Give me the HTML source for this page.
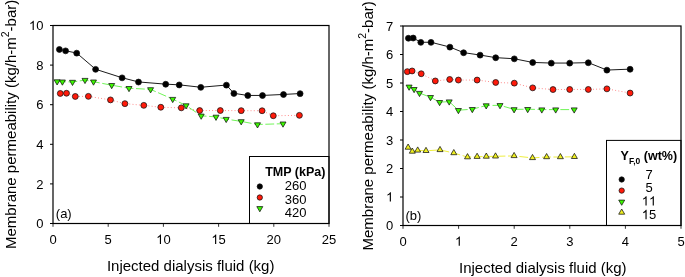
<!DOCTYPE html>
<html><head><meta charset="utf-8"><style>
html,body{margin:0;padding:0;background:#fff;}
svg{display:block;font-family:"Liberation Sans", sans-serif;will-change:transform;}
</style></head><body>
<svg width="685" height="277" viewBox="0 0 685 277" font-family='"Liberation Sans", sans-serif' fill="#000">
<line x1="50.0" y1="223.50" x2="53.0" y2="223.50" stroke="#000" stroke-width="1"/>
<text x="36.17" y="228.10" font-size="13">0</text>
<line x1="50.0" y1="183.90" x2="53.0" y2="183.90" stroke="#000" stroke-width="1"/>
<text x="36.17" y="188.50" font-size="13">2</text>
<line x1="50.0" y1="144.30" x2="53.0" y2="144.30" stroke="#000" stroke-width="1"/>
<text x="36.17" y="148.90" font-size="13">4</text>
<line x1="50.0" y1="104.70" x2="53.0" y2="104.70" stroke="#000" stroke-width="1"/>
<text x="36.17" y="109.30" font-size="13">6</text>
<line x1="50.0" y1="65.10" x2="53.0" y2="65.10" stroke="#000" stroke-width="1"/>
<text x="36.17" y="69.70" font-size="13">8</text>
<line x1="50.0" y1="25.50" x2="53.0" y2="25.50" stroke="#000" stroke-width="1"/>
<path d="M763 0L583 0L583 1147Q518 1085 412.5 1023Q307 961 223 930L223 1104Q374 1175 487 1276Q600 1377 647 1472L763 1472Z" transform="translate(28.94,30.10) scale(0.00635,-0.00635)"/>
<text x="36.17" y="30.10" font-size="13">0</text>
<line x1="53.00" y1="223.5" x2="53.00" y2="226.8" stroke="#000" stroke-width="0.8"/>
<text x="49.39" y="243.90" font-size="13">0</text>
<line x1="108.20" y1="223.5" x2="108.20" y2="226.8" stroke="#000" stroke-width="0.8"/>
<text x="104.59" y="243.90" font-size="13">5</text>
<line x1="163.40" y1="223.5" x2="163.40" y2="226.8" stroke="#000" stroke-width="0.8"/>
<path d="M763 0L583 0L583 1147Q518 1085 412.5 1023Q307 961 223 930L223 1104Q374 1175 487 1276Q600 1377 647 1472L763 1472Z" transform="translate(156.17,243.90) scale(0.00635,-0.00635)"/>
<text x="163.40" y="243.90" font-size="13">0</text>
<line x1="218.60" y1="223.5" x2="218.60" y2="226.8" stroke="#000" stroke-width="0.8"/>
<path d="M763 0L583 0L583 1147Q518 1085 412.5 1023Q307 961 223 930L223 1104Q374 1175 487 1276Q600 1377 647 1472L763 1472Z" transform="translate(211.37,243.90) scale(0.00635,-0.00635)"/>
<text x="218.60" y="243.90" font-size="13">5</text>
<line x1="273.80" y1="223.5" x2="273.80" y2="226.8" stroke="#000" stroke-width="0.8"/>
<text x="266.57" y="243.90" font-size="13">20</text>
<line x1="329.00" y1="223.5" x2="329.00" y2="226.8" stroke="#000" stroke-width="0.8"/>
<text x="321.77" y="243.90" font-size="13">25</text>
<polyline points="60.30,93.45 66.50,93.25 75.30,96.45 88.40,96.35 110.50,99.90 124.90,103.65 143.80,105.35 160.80,107.25 181.30,107.85 199.70,110.55 220.30,110.55 241.20,110.65 262.10,110.75 273.30,115.75 299.40,115.35" fill="none" stroke="#ff0000" stroke-width="0.9" stroke-dasharray="0.9 2.3" stroke-opacity="0.55"/>
<polyline points="57.10,81.50 62.40,81.70 72.50,82.00 85.00,80.10 93.50,81.70 111.70,85.20 129.00,88.20 150.60,89.40 172.70,99.10 186.10,105.50 201.20,115.80 216.00,116.90 226.20,119.10 241.20,121.40 257.50,124.50 283.00,123.70" fill="none" stroke="#40f020" stroke-width="1" stroke-dasharray="8.8 2.6" stroke-opacity="0.75"/>
<polyline points="59.40,49.35 65.60,50.75 76.70,53.05 95.60,69.25 122.10,77.75 138.50,81.95 165.70,84.15 179.20,84.85 200.80,87.25 226.40,85.05 233.90,93.35 247.80,95.45 262.50,95.45 283.50,94.45 300.10,93.55" fill="none" stroke="#000" stroke-width="0.9" stroke-opacity="1"/>
<circle cx="60.30" cy="93.45" r="2.95" fill="#ff1a0a" stroke="#111" stroke-width="0.75"/>
<circle cx="66.50" cy="93.25" r="2.95" fill="#ff1a0a" stroke="#111" stroke-width="0.75"/>
<circle cx="75.30" cy="96.45" r="2.95" fill="#ff1a0a" stroke="#111" stroke-width="0.75"/>
<circle cx="88.40" cy="96.35" r="2.95" fill="#ff1a0a" stroke="#111" stroke-width="0.75"/>
<circle cx="110.50" cy="99.90" r="2.95" fill="#ff1a0a" stroke="#111" stroke-width="0.75"/>
<circle cx="124.90" cy="103.65" r="2.95" fill="#ff1a0a" stroke="#111" stroke-width="0.75"/>
<circle cx="143.80" cy="105.35" r="2.95" fill="#ff1a0a" stroke="#111" stroke-width="0.75"/>
<circle cx="160.80" cy="107.25" r="2.95" fill="#ff1a0a" stroke="#111" stroke-width="0.75"/>
<circle cx="181.30" cy="107.85" r="2.95" fill="#ff1a0a" stroke="#111" stroke-width="0.75"/>
<circle cx="199.70" cy="110.55" r="2.95" fill="#ff1a0a" stroke="#111" stroke-width="0.75"/>
<circle cx="220.30" cy="110.55" r="2.95" fill="#ff1a0a" stroke="#111" stroke-width="0.75"/>
<circle cx="241.20" cy="110.65" r="2.95" fill="#ff1a0a" stroke="#111" stroke-width="0.75"/>
<circle cx="262.10" cy="110.75" r="2.95" fill="#ff1a0a" stroke="#111" stroke-width="0.75"/>
<circle cx="273.30" cy="115.75" r="2.95" fill="#ff1a0a" stroke="#111" stroke-width="0.75"/>
<circle cx="299.40" cy="115.35" r="2.95" fill="#ff1a0a" stroke="#111" stroke-width="0.75"/>
<polygon points="54.10,79.80 60.10,79.80 57.10,85.00" fill="#3cf800" stroke="#111" stroke-width="0.75" stroke-linejoin="miter"/>
<polygon points="59.40,80.00 65.40,80.00 62.40,85.20" fill="#3cf800" stroke="#111" stroke-width="0.75" stroke-linejoin="miter"/>
<polygon points="69.50,80.30 75.50,80.30 72.50,85.50" fill="#3cf800" stroke="#111" stroke-width="0.75" stroke-linejoin="miter"/>
<polygon points="82.00,78.40 88.00,78.40 85.00,83.60" fill="#3cf800" stroke="#111" stroke-width="0.75" stroke-linejoin="miter"/>
<polygon points="90.50,80.00 96.50,80.00 93.50,85.20" fill="#3cf800" stroke="#111" stroke-width="0.75" stroke-linejoin="miter"/>
<polygon points="108.70,83.50 114.70,83.50 111.70,88.70" fill="#3cf800" stroke="#111" stroke-width="0.75" stroke-linejoin="miter"/>
<polygon points="126.00,86.50 132.00,86.50 129.00,91.70" fill="#3cf800" stroke="#111" stroke-width="0.75" stroke-linejoin="miter"/>
<polygon points="147.60,87.70 153.60,87.70 150.60,92.90" fill="#3cf800" stroke="#111" stroke-width="0.75" stroke-linejoin="miter"/>
<polygon points="169.70,97.40 175.70,97.40 172.70,102.60" fill="#3cf800" stroke="#111" stroke-width="0.75" stroke-linejoin="miter"/>
<polygon points="183.10,103.80 189.10,103.80 186.10,109.00" fill="#3cf800" stroke="#111" stroke-width="0.75" stroke-linejoin="miter"/>
<polygon points="198.20,114.10 204.20,114.10 201.20,119.30" fill="#3cf800" stroke="#111" stroke-width="0.75" stroke-linejoin="miter"/>
<polygon points="213.00,115.20 219.00,115.20 216.00,120.40" fill="#3cf800" stroke="#111" stroke-width="0.75" stroke-linejoin="miter"/>
<polygon points="223.20,117.40 229.20,117.40 226.20,122.60" fill="#3cf800" stroke="#111" stroke-width="0.75" stroke-linejoin="miter"/>
<polygon points="238.20,119.70 244.20,119.70 241.20,124.90" fill="#3cf800" stroke="#111" stroke-width="0.75" stroke-linejoin="miter"/>
<polygon points="254.50,122.80 260.50,122.80 257.50,128.00" fill="#3cf800" stroke="#111" stroke-width="0.75" stroke-linejoin="miter"/>
<polygon points="280.00,122.00 286.00,122.00 283.00,127.20" fill="#3cf800" stroke="#111" stroke-width="0.75" stroke-linejoin="miter"/>
<circle cx="59.40" cy="49.45" r="2.95" fill="#000" stroke="#111" stroke-width="0.75"/>
<circle cx="65.60" cy="50.85" r="2.95" fill="#000" stroke="#111" stroke-width="0.75"/>
<circle cx="76.70" cy="53.15" r="2.95" fill="#000" stroke="#111" stroke-width="0.75"/>
<circle cx="95.60" cy="69.35" r="2.95" fill="#000" stroke="#111" stroke-width="0.75"/>
<circle cx="122.10" cy="77.85" r="2.95" fill="#000" stroke="#111" stroke-width="0.75"/>
<circle cx="138.50" cy="82.05" r="2.95" fill="#000" stroke="#111" stroke-width="0.75"/>
<circle cx="165.70" cy="84.25" r="2.95" fill="#000" stroke="#111" stroke-width="0.75"/>
<circle cx="179.20" cy="84.95" r="2.95" fill="#000" stroke="#111" stroke-width="0.75"/>
<circle cx="200.80" cy="87.35" r="2.95" fill="#000" stroke="#111" stroke-width="0.75"/>
<circle cx="226.40" cy="85.15" r="2.95" fill="#000" stroke="#111" stroke-width="0.75"/>
<circle cx="233.90" cy="93.45" r="2.95" fill="#000" stroke="#111" stroke-width="0.75"/>
<circle cx="247.80" cy="95.55" r="2.95" fill="#000" stroke="#111" stroke-width="0.75"/>
<circle cx="262.50" cy="95.55" r="2.95" fill="#000" stroke="#111" stroke-width="0.75"/>
<circle cx="283.50" cy="94.55" r="2.95" fill="#000" stroke="#111" stroke-width="0.75"/>
<circle cx="300.10" cy="93.65" r="2.95" fill="#000" stroke="#111" stroke-width="0.75"/>
<text x="55.8" y="218" font-size="13">(a)</text>
<rect x="249.5" y="156.5" width="79.5" height="67.0" fill="#fff" stroke="#000" stroke-width="1"/>
<rect x="53.0" y="25.5" width="276.0" height="198.0" fill="none" stroke="#000" stroke-width="1.2"/>
<text x="265.2" y="175.6" font-size="12.5" font-weight="bold">TMP (kPa)</text>
<text x="284.8" y="190.0" font-size="13">260</text>
<text x="284.8" y="203.5" font-size="13">360</text>
<text x="284.8" y="217.0" font-size="13">420</text>
<circle cx="259.8" cy="186.5" r="2.6550000000000002" fill="#000" stroke="#111" stroke-width="0.75"/>
<circle cx="259.8" cy="197.5" r="2.6550000000000002" fill="#ff1a0a" stroke="#111" stroke-width="0.75"/>
<polygon points="256.80,206.60 262.80,206.60 259.80,211.80" fill="#3cf800" stroke="#111" stroke-width="0.75"/>
<text transform="translate(15.9,249.0) rotate(-90)" font-size="15">Membrane permeability (kg/h-m<tspan font-size="10.5" dy="-6.5">2</tspan><tspan dy="6.5">-bar)</tspan></text>
<text x="106.9" y="271" font-size="15">Injected dialysis fluid (kg)</text>
<line x1="400.0" y1="225.50" x2="403.0" y2="225.50" stroke="#000" stroke-width="1"/>
<text x="386.07" y="230.10" font-size="13">0</text>
<line x1="400.0" y1="197.00" x2="403.0" y2="197.00" stroke="#000" stroke-width="1"/>
<path d="M763 0L583 0L583 1147Q518 1085 412.5 1023Q307 961 223 930L223 1104Q374 1175 487 1276Q600 1377 647 1472L763 1472Z" transform="translate(386.07,201.60) scale(0.00635,-0.00635)"/>
<line x1="400.0" y1="168.50" x2="403.0" y2="168.50" stroke="#000" stroke-width="1"/>
<text x="386.07" y="173.10" font-size="13">2</text>
<line x1="400.0" y1="140.00" x2="403.0" y2="140.00" stroke="#000" stroke-width="1"/>
<text x="386.07" y="144.60" font-size="13">3</text>
<line x1="400.0" y1="111.50" x2="403.0" y2="111.50" stroke="#000" stroke-width="1"/>
<text x="386.07" y="116.10" font-size="13">4</text>
<line x1="400.0" y1="83.00" x2="403.0" y2="83.00" stroke="#000" stroke-width="1"/>
<text x="386.07" y="87.60" font-size="13">5</text>
<line x1="400.0" y1="54.50" x2="403.0" y2="54.50" stroke="#000" stroke-width="1"/>
<text x="386.07" y="59.10" font-size="13">6</text>
<line x1="400.0" y1="26.00" x2="403.0" y2="26.00" stroke="#000" stroke-width="1"/>
<text x="386.07" y="30.60" font-size="13">7</text>
<line x1="403.00" y1="225.5" x2="403.00" y2="228.8" stroke="#000" stroke-width="0.8"/>
<text x="399.39" y="245.80" font-size="13">0</text>
<line x1="458.60" y1="225.5" x2="458.60" y2="228.8" stroke="#000" stroke-width="0.8"/>
<path d="M763 0L583 0L583 1147Q518 1085 412.5 1023Q307 961 223 930L223 1104Q374 1175 487 1276Q600 1377 647 1472L763 1472Z" transform="translate(454.99,245.80) scale(0.00635,-0.00635)"/>
<line x1="514.20" y1="225.5" x2="514.20" y2="228.8" stroke="#000" stroke-width="0.8"/>
<text x="510.59" y="245.80" font-size="13">2</text>
<line x1="569.80" y1="225.5" x2="569.80" y2="228.8" stroke="#000" stroke-width="0.8"/>
<text x="566.19" y="245.80" font-size="13">3</text>
<line x1="625.40" y1="225.5" x2="625.40" y2="228.8" stroke="#000" stroke-width="0.8"/>
<text x="621.79" y="245.80" font-size="13">4</text>
<line x1="681.00" y1="225.5" x2="681.00" y2="228.8" stroke="#000" stroke-width="0.8"/>
<text x="677.39" y="245.80" font-size="13">5</text>
<polyline points="407.30,71.65 412.10,70.95 421.20,73.75 435.30,80.95 449.70,79.45 458.40,80.05 477.10,80.05 495.70,82.45 514.30,83.15 532.70,87.85 553.00,89.55 569.70,89.45 588.30,89.45 606.90,88.85 630.10,93.05" fill="none" stroke="#ff0000" stroke-width="0.9" stroke-dasharray="0.9 2.3" stroke-opacity="0.55"/>
<polyline points="409.10,86.80 414.10,89.20 419.50,93.10 430.50,97.20 439.60,102.20 449.20,101.60 458.40,110.20 472.30,109.20 486.20,105.50 500.00,105.30 514.10,109.40 527.70,109.20 541.80,109.60 555.70,109.60 574.20,109.60" fill="none" stroke="#40f020" stroke-width="1" stroke-dasharray="8.8 2.6" stroke-opacity="0.75"/>
<polyline points="408.10,147.50 412.30,151.50 417.70,150.40 426.00,150.80 440.00,149.90 453.80,153.00 467.50,157.10 477.10,156.70 486.30,156.50 495.50,156.30 514.10,155.90 532.50,157.90 546.60,157.00 560.40,157.00 574.40,156.80" fill="none" stroke="#e8e800" stroke-width="1" stroke-dasharray="8.8 2.6" stroke-opacity="0.75"/>
<polyline points="408.40,38.15 413.20,37.95 420.80,42.25 431.00,42.25 449.90,47.05 463.60,52.65 480.10,55.05 495.70,57.65 514.30,58.75 532.70,62.45 551.30,63.05 569.70,63.05 588.30,62.65 606.90,70.05 630.10,69.15" fill="none" stroke="#000" stroke-width="0.9" stroke-opacity="1"/>
<circle cx="407.30" cy="71.65" r="2.95" fill="#ff1a0a" stroke="#111" stroke-width="0.75"/>
<circle cx="412.10" cy="70.95" r="2.95" fill="#ff1a0a" stroke="#111" stroke-width="0.75"/>
<circle cx="421.20" cy="73.75" r="2.95" fill="#ff1a0a" stroke="#111" stroke-width="0.75"/>
<circle cx="435.30" cy="80.95" r="2.95" fill="#ff1a0a" stroke="#111" stroke-width="0.75"/>
<circle cx="449.70" cy="79.45" r="2.95" fill="#ff1a0a" stroke="#111" stroke-width="0.75"/>
<circle cx="458.40" cy="80.05" r="2.95" fill="#ff1a0a" stroke="#111" stroke-width="0.75"/>
<circle cx="477.10" cy="80.05" r="2.95" fill="#ff1a0a" stroke="#111" stroke-width="0.75"/>
<circle cx="495.70" cy="82.45" r="2.95" fill="#ff1a0a" stroke="#111" stroke-width="0.75"/>
<circle cx="514.30" cy="83.15" r="2.95" fill="#ff1a0a" stroke="#111" stroke-width="0.75"/>
<circle cx="532.70" cy="87.85" r="2.95" fill="#ff1a0a" stroke="#111" stroke-width="0.75"/>
<circle cx="553.00" cy="89.55" r="2.95" fill="#ff1a0a" stroke="#111" stroke-width="0.75"/>
<circle cx="569.70" cy="89.45" r="2.95" fill="#ff1a0a" stroke="#111" stroke-width="0.75"/>
<circle cx="588.30" cy="89.45" r="2.95" fill="#ff1a0a" stroke="#111" stroke-width="0.75"/>
<circle cx="606.90" cy="88.85" r="2.95" fill="#ff1a0a" stroke="#111" stroke-width="0.75"/>
<circle cx="630.10" cy="93.05" r="2.95" fill="#ff1a0a" stroke="#111" stroke-width="0.75"/>
<polygon points="406.10,85.10 412.10,85.10 409.10,90.30" fill="#3cf800" stroke="#111" stroke-width="0.75" stroke-linejoin="miter"/>
<polygon points="411.10,87.50 417.10,87.50 414.10,92.70" fill="#3cf800" stroke="#111" stroke-width="0.75" stroke-linejoin="miter"/>
<polygon points="416.50,91.40 422.50,91.40 419.50,96.60" fill="#3cf800" stroke="#111" stroke-width="0.75" stroke-linejoin="miter"/>
<polygon points="427.50,95.50 433.50,95.50 430.50,100.70" fill="#3cf800" stroke="#111" stroke-width="0.75" stroke-linejoin="miter"/>
<polygon points="436.60,100.50 442.60,100.50 439.60,105.70" fill="#3cf800" stroke="#111" stroke-width="0.75" stroke-linejoin="miter"/>
<polygon points="446.20,99.90 452.20,99.90 449.20,105.10" fill="#3cf800" stroke="#111" stroke-width="0.75" stroke-linejoin="miter"/>
<polygon points="455.40,108.50 461.40,108.50 458.40,113.70" fill="#3cf800" stroke="#111" stroke-width="0.75" stroke-linejoin="miter"/>
<polygon points="469.30,107.50 475.30,107.50 472.30,112.70" fill="#3cf800" stroke="#111" stroke-width="0.75" stroke-linejoin="miter"/>
<polygon points="483.20,103.80 489.20,103.80 486.20,109.00" fill="#3cf800" stroke="#111" stroke-width="0.75" stroke-linejoin="miter"/>
<polygon points="497.00,103.60 503.00,103.60 500.00,108.80" fill="#3cf800" stroke="#111" stroke-width="0.75" stroke-linejoin="miter"/>
<polygon points="511.10,107.70 517.10,107.70 514.10,112.90" fill="#3cf800" stroke="#111" stroke-width="0.75" stroke-linejoin="miter"/>
<polygon points="524.70,107.50 530.70,107.50 527.70,112.70" fill="#3cf800" stroke="#111" stroke-width="0.75" stroke-linejoin="miter"/>
<polygon points="538.80,107.90 544.80,107.90 541.80,113.10" fill="#3cf800" stroke="#111" stroke-width="0.75" stroke-linejoin="miter"/>
<polygon points="552.70,107.90 558.70,107.90 555.70,113.10" fill="#3cf800" stroke="#111" stroke-width="0.75" stroke-linejoin="miter"/>
<polygon points="571.20,107.90 577.20,107.90 574.20,113.10" fill="#3cf800" stroke="#111" stroke-width="0.75" stroke-linejoin="miter"/>
<polygon points="405.10,149.20 411.10,149.20 408.10,144.00" fill="#f0f020" stroke="#111" stroke-width="0.75" stroke-linejoin="miter"/>
<polygon points="409.30,153.20 415.30,153.20 412.30,148.00" fill="#f0f020" stroke="#111" stroke-width="0.75" stroke-linejoin="miter"/>
<polygon points="414.70,152.10 420.70,152.10 417.70,146.90" fill="#f0f020" stroke="#111" stroke-width="0.75" stroke-linejoin="miter"/>
<polygon points="423.00,152.50 429.00,152.50 426.00,147.30" fill="#f0f020" stroke="#111" stroke-width="0.75" stroke-linejoin="miter"/>
<polygon points="437.00,151.60 443.00,151.60 440.00,146.40" fill="#f0f020" stroke="#111" stroke-width="0.75" stroke-linejoin="miter"/>
<polygon points="450.80,154.70 456.80,154.70 453.80,149.50" fill="#f0f020" stroke="#111" stroke-width="0.75" stroke-linejoin="miter"/>
<polygon points="464.50,158.80 470.50,158.80 467.50,153.60" fill="#f0f020" stroke="#111" stroke-width="0.75" stroke-linejoin="miter"/>
<polygon points="474.10,158.40 480.10,158.40 477.10,153.20" fill="#f0f020" stroke="#111" stroke-width="0.75" stroke-linejoin="miter"/>
<polygon points="483.30,158.20 489.30,158.20 486.30,153.00" fill="#f0f020" stroke="#111" stroke-width="0.75" stroke-linejoin="miter"/>
<polygon points="492.50,158.00 498.50,158.00 495.50,152.80" fill="#f0f020" stroke="#111" stroke-width="0.75" stroke-linejoin="miter"/>
<polygon points="511.10,157.60 517.10,157.60 514.10,152.40" fill="#f0f020" stroke="#111" stroke-width="0.75" stroke-linejoin="miter"/>
<polygon points="529.50,159.60 535.50,159.60 532.50,154.40" fill="#f0f020" stroke="#111" stroke-width="0.75" stroke-linejoin="miter"/>
<polygon points="543.60,158.70 549.60,158.70 546.60,153.50" fill="#f0f020" stroke="#111" stroke-width="0.75" stroke-linejoin="miter"/>
<polygon points="557.40,158.70 563.40,158.70 560.40,153.50" fill="#f0f020" stroke="#111" stroke-width="0.75" stroke-linejoin="miter"/>
<polygon points="571.40,158.50 577.40,158.50 574.40,153.30" fill="#f0f020" stroke="#111" stroke-width="0.75" stroke-linejoin="miter"/>
<circle cx="408.40" cy="38.25" r="2.95" fill="#000" stroke="#111" stroke-width="0.75"/>
<circle cx="413.20" cy="38.05" r="2.95" fill="#000" stroke="#111" stroke-width="0.75"/>
<circle cx="420.80" cy="42.35" r="2.95" fill="#000" stroke="#111" stroke-width="0.75"/>
<circle cx="431.00" cy="42.35" r="2.95" fill="#000" stroke="#111" stroke-width="0.75"/>
<circle cx="449.90" cy="47.15" r="2.95" fill="#000" stroke="#111" stroke-width="0.75"/>
<circle cx="463.60" cy="52.75" r="2.95" fill="#000" stroke="#111" stroke-width="0.75"/>
<circle cx="480.10" cy="55.15" r="2.95" fill="#000" stroke="#111" stroke-width="0.75"/>
<circle cx="495.70" cy="57.75" r="2.95" fill="#000" stroke="#111" stroke-width="0.75"/>
<circle cx="514.30" cy="58.85" r="2.95" fill="#000" stroke="#111" stroke-width="0.75"/>
<circle cx="532.70" cy="62.55" r="2.95" fill="#000" stroke="#111" stroke-width="0.75"/>
<circle cx="551.30" cy="63.15" r="2.95" fill="#000" stroke="#111" stroke-width="0.75"/>
<circle cx="569.70" cy="63.15" r="2.95" fill="#000" stroke="#111" stroke-width="0.75"/>
<circle cx="588.30" cy="62.75" r="2.95" fill="#000" stroke="#111" stroke-width="0.75"/>
<circle cx="606.90" cy="70.15" r="2.95" fill="#000" stroke="#111" stroke-width="0.75"/>
<circle cx="630.10" cy="69.25" r="2.95" fill="#000" stroke="#111" stroke-width="0.75"/>
<text x="405.4" y="219.8" font-size="13">(b)</text>
<rect x="606.5" y="140.4" width="74.5" height="85.1" fill="#fff" stroke="#000" stroke-width="1"/>
<rect x="403.0" y="26.0" width="278.0" height="199.5" fill="none" stroke="#000" stroke-width="1.2"/>
<text x="620.6" y="160.2" font-size="12.5" font-weight="bold">Y<tspan font-size="8.5" dy="3.5">F,0</tspan><tspan dy="-3.5"> (wt%)</tspan></text>
<text x="645.39" y="178.50" font-size="13">7</text>
<text x="645.39" y="192.10" font-size="13">5</text>
<path d="M763 0L583 0L583 1147Q518 1085 412.5 1023Q307 961 223 930L223 1104Q374 1175 487 1276Q600 1377 647 1472L763 1472Z" transform="translate(641.77,205.60) scale(0.00635,-0.00635)"/>
<path d="M763 0L583 0L583 1147Q518 1085 412.5 1023Q307 961 223 930L223 1104Q374 1175 487 1276Q600 1377 647 1472L763 1472Z" transform="translate(649.00,205.60) scale(0.00635,-0.00635)"/>
<path d="M763 0L583 0L583 1147Q518 1085 412.5 1023Q307 961 223 930L223 1104Q374 1175 487 1276Q600 1377 647 1472L763 1472Z" transform="translate(641.77,219.20) scale(0.00635,-0.00635)"/>
<text x="649.00" y="219.20" font-size="13">5</text>
<circle cx="621.7" cy="179.5" r="2.6550000000000002" fill="#000" stroke="#111" stroke-width="0.75"/>
<circle cx="621.7" cy="190.6" r="2.6550000000000002" fill="#ff1a0a" stroke="#111" stroke-width="0.75"/>
<polygon points="618.70,200.10 624.70,200.10 621.70,205.30" fill="#3cf800" stroke="#111" stroke-width="0.75"/>
<polygon points="618.70,214.20 624.70,214.20 621.70,209.00" fill="#f0f020" stroke="#111" stroke-width="0.75"/>
<text transform="translate(372.9,250.5) rotate(-90)" font-size="15">Membrane permeability (kg/h-m<tspan font-size="10.5" dy="-6.5">2</tspan><tspan dy="6.5">-bar)</tspan></text>
<text x="459" y="272.8" font-size="15">Injected dialysis fluid (kg)</text>
</svg>
</body></html>
